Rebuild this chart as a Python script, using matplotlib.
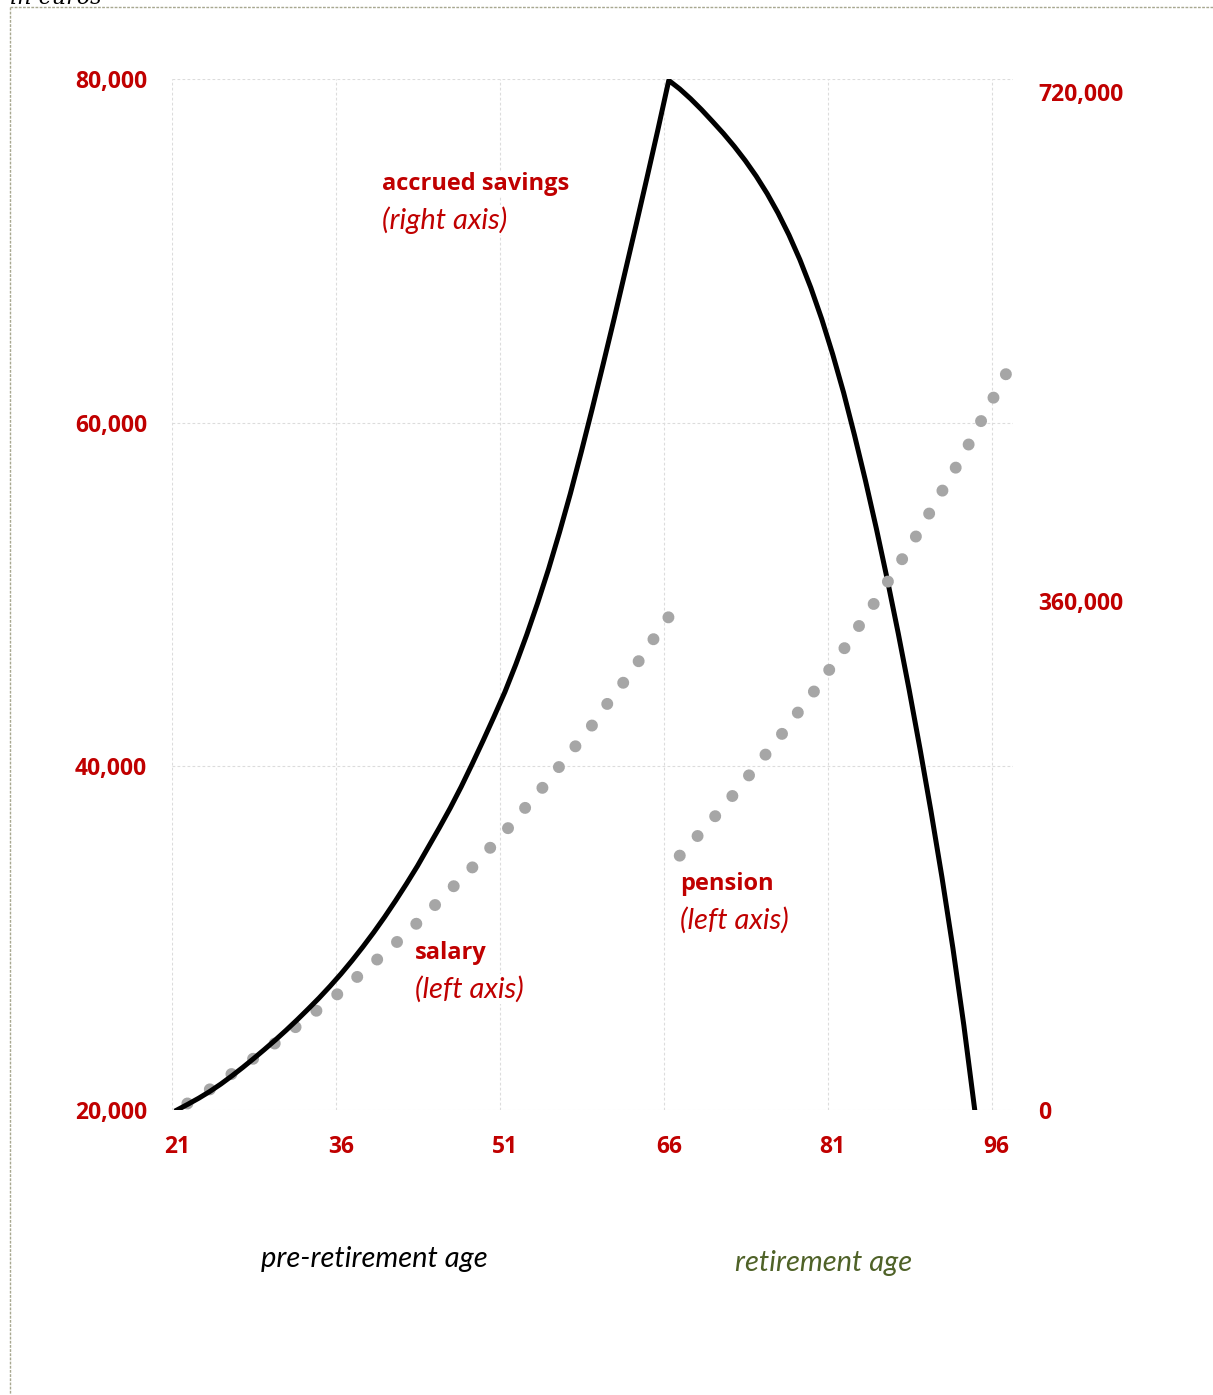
import matplotlib
matplotlib.use("Agg")
import matplotlib.pyplot as plt
from matplotlib.lines import Line2D
from matplotlib.ticker import FuncFormatter

# --- données ---
salary_ages = list(range(21, 67))
salary = [20000, 20400, 20800, 21200, 21600, 22100, 22500, 23000, 23400, 23900,
          24400, 24900, 25400, 25900, 26400, 26900, 27500, 28000, 28600, 29100,
          29700, 30300, 30900, 31500, 32200, 32800, 33500, 34100, 34800, 35500,
          36200, 36900, 37700, 38400, 39200, 40000, 40800, 41600, 42400, 43300,
          44200, 45000, 45900, 46800, 47800, 48700]

pension_ages = list(range(67, 98))
pension = [34800, 35500, 36200, 36900, 37700, 38400, 39200, 40000, 40800, 41600,
           42400, 43300, 44100, 45000, 45900, 46800, 47800, 48700, 49700, 50700,
           51700, 52700, 53800, 54900, 56000, 57100, 58200, 59400, 60600, 61800,
           63000]

savings_ages = list(range(21, 95))
savings = [0, 4100, 8400, 13100, 18300, 24000, 30000, 36300, 42800, 49500,
           56500, 63800, 71400, 79200, 87500, 96200, 105500, 115300, 125600, 136500,
           148000, 160000, 172500, 186000, 199500, 213500, 228500, 244500, 261000, 278000,
           295500, 315000, 336000, 358500, 382500, 408500, 436000, 465500, 496000, 527500,
           559500, 592500, 625500, 659000, 693000, 728000,
           722000, 715000, 707300, 699000, 690500, 681300, 671300, 660300, 648000, 634200,
           618700, 601200, 581400, 559200, 534400, 507200, 477000, 445000, 411000, 375000,
           337000, 297000, 255000, 211000, 164500, 114500, 60000, 0]

x_ticks = [21, 36, 51, 66, 81, 96]
left_ticks = [20000, 40000, 60000, 80000]
right_ticks = [0, 360000, 720000]

RED = "#C00000"
GREY = "#A6A6A6"
GRID = "#DCDCDC"
W, H = 1213, 1395


def fx(px):
    return px / W


def fy(py):
    return 1 - py / H


plt.rcParams["font.family"] = ["Lato", "DejaVu Sans"]
plt.rcParams["font.weight"] = "bold"

fig = plt.figure(figsize=(W / 100, H / 100), dpi=100)
ax = fig.add_axes([fx(172), fy(1110), (1013 - 172) / W, (1110 - 79) / H])
ax2 = ax.twinx()

# axes
ax.set_xlim(20.54, 97.5)
ax.set_ylim(20000, 80000)
ax2.set_ylim(0, 729000)

ax.set_xticks(x_ticks)
ax.set_xticks([a - 0.45 for a in x_ticks], minor=True)
ax.set_yticks(left_ticks)
ax2.set_yticks(right_ticks)

fmt = FuncFormatter(lambda v, p: f"{v:,.0f}")
ax.yaxis.set_major_formatter(fmt)
ax2.yaxis.set_major_formatter(fmt)

ax.grid(which="minor", axis="x", color=GRID, lw=0.8, linestyle=(0, (2.5, 2)))
ax.grid(which="major", axis="y", color=GRID, lw=0.8, linestyle=(0, (2.5, 2)))
ax.grid(which="major", axis="x", visible=False)

for a in (ax, ax2):
    for s in a.spines.values():
        s.set_visible(False)
    a.tick_params(which="both", length=0, pad=18, labelsize=16.5, labelcolor=RED,
                  labelfontfamily="Open Sans")

# séries
ax.plot(salary_ages, salary, color=GREY, lw=8.6, linestyle=(1.2, (0.01, 2.21)),
        dash_capstyle="round", zorder=2)
ax2.plot(savings_ages, savings, color="black", lw=3.6, zorder=3)
ax2.plot(pension_ages, pension, color=GREY, lw=8.6, linestyle=(0, (0.01, 2.21)),
         dash_capstyle="round", transform=ax.transData, zorder=4)

# étiquettes
box = dict(facecolor="white", edgecolor="none", pad=1)
bold_kw = dict(color=RED, fontsize=17, fontweight="bold", family="Open Sans",
               va="center", ha="left", bbox=box)
ital_kw = dict(color=RED, fontsize=21, fontweight="normal", style="italic",
               va="center", ha="left", bbox=box)
fig.text(fx(382), fy(184), "accrued savings", **bold_kw)
fig.text(fx(382), fy(220), "(right axis)", **ital_kw)
fig.text(fx(415), fy(953), "salary", **bold_kw)
fig.text(fx(415), fy(989), "(left axis)", **ital_kw)
fig.text(fx(680), fy(884), "pension", **bold_kw)
fig.text(fx(680), fy(920), "(left axis)", **ital_kw)

fig.text(fx(261), fy(1259), "pre-retirement age", color="black", fontsize=21,
         fontweight="normal", style="italic", va="center", ha="left")
fig.text(fx(735), fy(1263), "retirement age", color="#4F6228", fontsize=21,
         fontweight="normal", style="italic", va="center", ha="left")

fig.text(fx(10), fy(4), "in euros", color="black", fontsize=16, style="italic",
         fontweight="normal", family="DejaVu Serif", va="baseline", ha="left")

# cadre pointillé
frame_col = "#A8A890"
fig.add_artist(Line2D([fx(10), fx(10)], [fy(7), 0], color=frame_col, lw=1,
                      linestyle=(0, (2, 1))))
fig.add_artist(Line2D([fx(10), 1], [fy(7), fy(7)], color=frame_col, lw=1,
                      linestyle=(0, (2, 1))))

fig.savefig("out.png", dpi=100, facecolor="white")
